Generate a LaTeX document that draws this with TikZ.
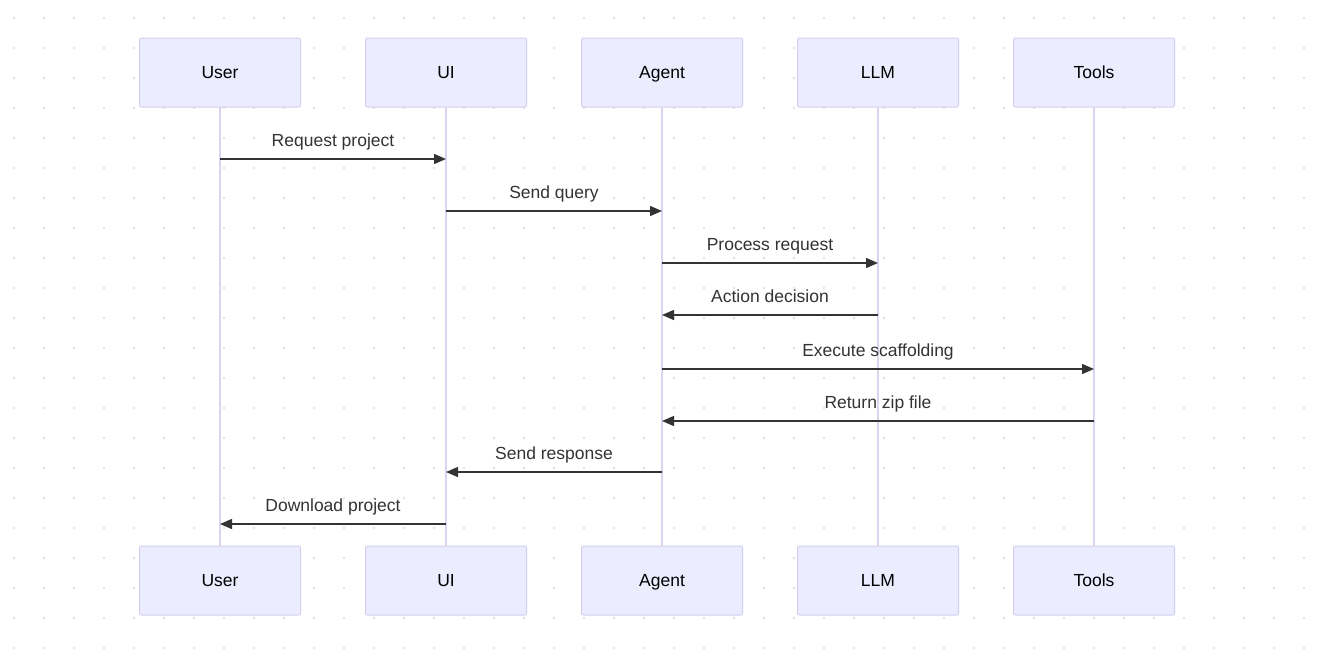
\documentclass[tikz,border=0pt]{standalone}
\usepackage{fontspec}
\setmainfont{Liberation Sans}
\usetikzlibrary{arrows.meta}
\definecolor{boxfill}{HTML}{ECECFF}
\definecolor{boxline}{HTML}{D4CFF0}
\definecolor{lifeline}{HTML}{DCD3EE}
\definecolor{msg}{HTML}{333333}
\definecolor{dotc}{HTML}{E2E2E2}
\tikzset{
  actor/.style={draw=boxline, fill=boxfill, line width=1pt, rounded corners=2pt,
    minimum width=161pt, minimum height=69pt, inner sep=0pt,
    text height=14.5pt, text depth=2.5pt,
    font=\fontsize{17.5}{20}\selectfont, text=black},
  life/.style={draw=lifeline, line width=2pt},
  message/.style={draw=msg, line width=1.4pt, -{Triangle[length=12pt,width=10pt]}},
  mlabel/.style={font=\fontsize{17.5}{20}\selectfont, text=msg, inner sep=0pt,
    text height=12.5pt, text depth=3.5pt},
}
\begin{document}
\begin{tikzpicture}[x=1pt,y=-1pt]
\useasboundingbox (0,0) rectangle (1321,656);
\fill[white] (0,0) rectangle (1321,656);
\foreach \i in {0,...,43} {\foreach \j in {0,...,21} {
  \fill[dotc] (14+30*\i, 18+30*\j) circle (1.3pt);
}}
\foreach \n/\t/\x in {u/User/220, ui/UI/446, ag/Agent/662, llm/LLM/878, tl/Tools/1094} {
  \coordinate (\n top) at (\x,107);
  \coordinate (\n bot) at (\x,546);
  \draw[life] (\n top) -- (\n bot);
  \node[actor] (\n T) at (\x,72.5) {\t};
  \node[actor] (\n B) at (\x,580.5) {\t};
}
% message coordinates
\foreach \n/\x in {u/220, ui/446, ag/662, llm/878, tl/1094} {
  \foreach \k/\y in {1/159, 2/211, 3/263, 4/315, 5/369, 6/421, 7/472, 8/524} {
    \coordinate (\n\k) at (\x,\y);
  }
}
\draw[message] (u1) -- (ui1) node[mlabel, midway, above=8pt] (l1) {Request project};
\draw[message] (ui2) -- (ag2) node[mlabel, midway, above=8pt] (l2) {Send query};
\draw[message] (ag3) -- (llm3) node[mlabel, midway, above=8pt] (l3) {Process request};
\draw[message] (llm4) -- (ag4) node[mlabel, midway, above=8pt] (l4) {Action decision};
\draw[message] (ag5) -- (tl5) node[mlabel, midway, above=8pt] (l5) {Execute scaffolding};
\draw[message] (tl6) -- (ag6) node[mlabel, midway, above=8pt] (l6) {Return zip file};
\draw[message] (ag7) -- (ui7) node[mlabel, midway, above=8pt] (l7) {Send response};
\draw[message] (ui8) -- (u8) node[mlabel, midway, above=8pt] (l8) {Download project};
\end{tikzpicture}
\end{document}
